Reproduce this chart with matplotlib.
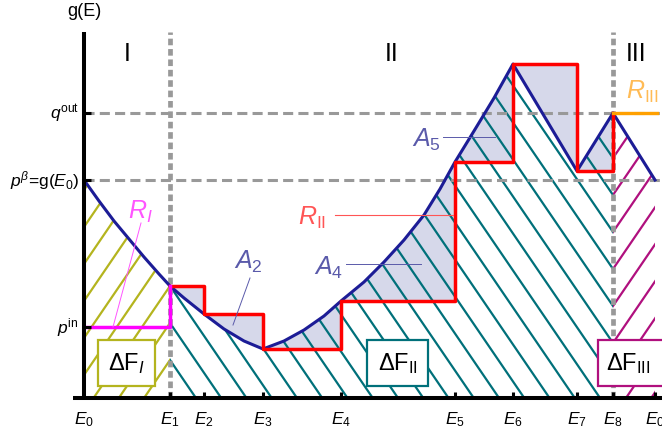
import numpy as np
import matplotlib
matplotlib.use('Agg')
import matplotlib.pyplot as plt
from matplotlib.collections import LineCollection
from matplotlib.patches import Polygon, Rectangle

plt.rcParams['font.family'] = ['Liberation Sans', 'DejaVu Sans']
plt.rcParams['mathtext.fontset'] = 'custom'
plt.rcParams['mathtext.rm'] = 'Liberation Sans'
plt.rcParams['mathtext.it'] = 'Liberation Sans:italic'
plt.rcParams['mathtext.bf'] = 'Liberation Sans:bold'

# energy grid (E0 ... E8, E0 again at the right end)
E_vals = [0, 86, 120, 179, 257, 371, 429, 493, 529, 571]
E_labels = ['$E_0$', '$E_1$', '$E_2$', '$E_3$', '$E_4$', '$E_5$',
            '$E_6$', '$E_7$', '$E_8$', '$E_0$']

# g(E)
curve_x = [0, 15, 30, 45, 60, 75, 86, 100, 120, 140, 160, 179, 200, 220, 240,
           257, 280, 300, 320, 340, 356, 371, 390, 410, 429, 493, 529, 571]
curve_y = [218, 197, 177, 159, 141, 124, 112, 100, 84, 69, 57, 49, 57, 68, 82,
           97, 116, 136, 158, 183, 209, 236, 267, 300, 334, 227, 285, 218]

q_out = 285
p_beta = 218
p_in = 71
y_ticks = [q_out, p_beta, p_in]

curve_x = np.array(curve_x, dtype=float)
curve_y = np.array(curve_y, dtype=float)
g_at_E = [curve_y[list(curve_x).index(e)] for e in E_vals]

teal = '#00707a'
olive = '#b4b41e'
magenta = '#b0107e'
lav = '#d6d8ea'
navy = '#1c1c96'
grey = '#999999'
slate = '#5a5aaa'

fig = plt.figure(figsize=(6.62, 4.35), dpi=100)
ax = fig.add_axes([0, 0, 1, 1])
ax.set_xlim(-84, 578)
ax.set_ylim(-36, 399)
ax.axis('off')

# shaded A regions between step and curve
for i in range(1, 8):
    a, b = E_vals[i], E_vals[i + 1]
    m = (curve_x >= a) & (curve_x <= b)
    ax.fill_between(curve_x[m], curve_y[m], g_at_E[i], color=lav, lw=0, zorder=1)


def region(a, b):
    m = (curve_x >= a) & (curve_x <= b)
    pts = [(a, 0)] + list(zip(curve_x[m], curve_y[m])) + [(b, 0)]
    p = Polygon(pts, closed=True, fc='none', ec='none')
    ax.add_patch(p)
    return p


def hatch(patch, x0, y0, slope, step, color):
    segs = []
    for k in range(-40, 40):
        c = y0 + k * step
        xs = np.array([-100, 700])
        segs.append(list(zip(xs, c + slope * (xs - x0))))
    lc = LineCollection(segs, colors=color, linewidths=1.6, zorder=2)
    ax.add_collection(lc)
    lc.set_clip_path(patch)


slope = 1.465
spacing = 37
E1, E8 = E_vals[1], E_vals[8]
y8 = g_at_E[1] - slope * (E8 - E1)
hatch(region(E_vals[0], E1), E1, g_at_E[1], slope, spacing, olive)
hatch(region(E1, E8), E1, g_at_E[1], -slope, spacing, teal)
hatch(region(E8, E_vals[9]), E8, y8, slope, spacing, magenta)

# grey guide lines
for e in [E1, E8]:
    ax.plot([e, e], [0, 366], color=grey, lw=3.4, ls=(0, (1.4, 0.8)),
            solid_capstyle='butt', zorder=3)
for v in [q_out, p_beta]:
    ax.plot([0, 578], [v, v], color=grey, lw=2.2, ls=(0, (3.3, 1.7)), zorder=3)

# curve and step functions
ax.plot(curve_x, curve_y, color=navy, lw=2.2, zorder=4)
ax.step(E_vals[1:9], g_at_E[1:9], where='post', color='#ff0000', lw=2.5, zorder=5)
ax.step([E_vals[0], E1], [p_in, g_at_E[1]], where='post', color='#ff00ff', lw=2.5, zorder=5)
ax.plot([E8, E_vals[9] + 2], [g_at_E[8], g_at_E[8]], color='#ffa000', lw=2.4, zorder=5)

# axes
ax.plot([-11, 578], [0, 0], color='k', lw=2.9, solid_capstyle='butt', zorder=6)
ax.plot([0, 0], [0, 366], color='k', lw=2.9, solid_capstyle='butt', zorder=6)
for e, lab in zip(E_vals, E_labels):
    if e > 0:
        ax.plot([e, e], [0, 6], color='k', lw=2.2, solid_capstyle='butt', zorder=6)
    ax.text(e, -11, lab, ha='center', va='top', fontsize=12.5, zorder=7)
for v in y_ticks:
    ax.plot([0, 7], [v, v], color='k', lw=2.2, solid_capstyle='butt', zorder=6)
ax.text(-5, q_out, r'$q^{\rm out}$', ha='right', va='center', fontsize=12.5)
ax.text(-5, p_beta, r'$p^{\beta}$=g($E_0$)', ha='right', va='center', fontsize=12.5)
ax.text(-5, p_in, r'$p^{\rm in}$', ha='right', va='center', fontsize=12.5)
ax.text(0, 387, 'g(E)', ha='center', va='center', fontsize=13)

# region labels
ax.text(43, 345, 'I', ha='center', va='center', fontsize=18)
ax.text(308, 345, 'II', ha='center', va='center', fontsize=18)
ax.text(552, 345, 'III', ha='center', va='center', fontsize=18)

# boxes
for x0, x1, col, lab in [(14, 71, olive, r'$\Delta\mathrm{F}_{I}$'),
                         (283, 344, teal, r'$\Delta\mathrm{F}_{\mathrm{II}}$'),
                         (514, 640, magenta, r'$\Delta\mathrm{F}_{\mathrm{III}}$')]:
    ax.add_patch(Rectangle((x0, 12), x1 - x0, 46, fc='white', ec=col, lw=1.6, zorder=7))
    if x1 < 578:
        ax.text((x0 + x1) / 2, 35, lab, ha='center', va='center', fontsize=17, zorder=8)
    else:
        ax.text(x0 + 8, 35, lab, ha='left', va='center', fontsize=17, zorder=8)

# annotations
ax.text(56, 187, r'$R_{I}$', color='#ff55ff', ha='center', va='center', fontsize=18, zorder=8)
ax.plot([29, 57], [71, 175], color='#ff55ff', lw=0.7, zorder=8)
ax.text(228, 181, r'$R_{\mathrm{II}}$', color='#ff5555', ha='center', va='center', fontsize=18, zorder=8)
ax.plot([251, 369], [183, 183], color='#ff5555', lw=0.8, zorder=8)
ax.text(558, 307, r'$R_{\mathrm{III}}$', color='#ffbb55', ha='center', va='center', fontsize=18, zorder=8)

ax.text(164, 137, r'$A_2$', color=slate, ha='center', va='center', fontsize=18, zorder=8)
ax.plot([166, 149], [120, 73], color=slate, lw=0.7, zorder=8)
ax.text(245, 131, r'$A_4$', color=slate, ha='center', va='center', fontsize=18, zorder=8)
ax.plot([262, 337], [134, 134], color=slate, lw=0.7, zorder=8)
ax.text(342, 259, r'$A_5$', color=slate, ha='center', va='center', fontsize=18, zorder=8)
ax.plot([359, 411], [261, 261], color=slate, lw=0.7, zorder=8)

plt.savefig('out.png', dpi=100)
